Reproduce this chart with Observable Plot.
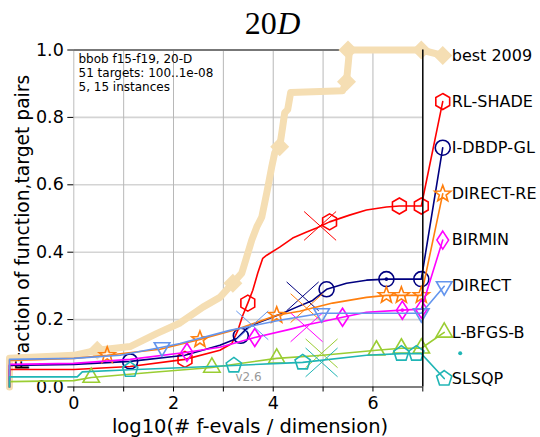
<!DOCTYPE html>
<html>
<head>
<meta charset="utf-8">
<script src="https://cdn.jsdelivr.net/npm/d3@7"></script>
<script src="https://cdn.jsdelivr.net/npm/@observablehq/plot@0.6"></script>
<style>
  body { margin: 0; background: #fff; }
  #chart svg { display: block; }
</style>
</head>
<body>
<div id="chart"></div>
<script>
// Runtime-length ECDFs, bbob f15-f19 in 20-D.
// Each point: [log10(# f-evals / dimension), fraction of (function, target) pairs].
// The last point of every curve is where it meets its name on the right.
const best2009 = [[-1.29,0],[-1.29,0.085],[0,0.094],[0.47,0.109],[1.13,0.12],[1.67,0.159],[2.13,0.19],[2.59,0.237],[2.93,0.266],[3.19,0.308],[3.37,0.338],[3.49,0.397],[3.57,0.436],[3.67,0.475],[3.77,0.504],[3.87,0.576],[3.91,0.606],[3.97,0.653],[4.03,0.695],[4.13,0.713],[4.19,0.772],[4.23,0.814],[4.29,0.823],[4.35,0.874],[5.39,0.879],[5.47,0.906],[5.53,1.0],[6.97,1.0],[7.4,0.984]];
const rlShade = [[-1.29,0],[-1.29,0.052],[0,0.052],[1.13,0.061],[2.23,0.082],[2.93,0.109],[3.17,0.129],[3.29,0.168],[3.39,0.213],[3.49,0.249],[3.59,0.287],[3.69,0.338],[3.79,0.382],[3.87,0.391],[4.13,0.415],[4.39,0.442],[4.67,0.46],[4.87,0.472],[5.13,0.49],[5.53,0.51],[5.87,0.525],[6.27,0.534],[6.53,0.537],[6.97,0.537],[7.4,0.847]];
const iDbdpGl = [[-1.29,0],[-1.29,0.064],[0,0.067],[1.13,0.076],[2.23,0.094],[2.93,0.124],[3.27,0.144],[3.47,0.174],[3.67,0.189],[3.93,0.204],[4.19,0.219],[4.47,0.237],[4.79,0.257],[5.07,0.29],[5.47,0.308],[5.87,0.317],[6.27,0.32],[6.97,0.32],[7.4,0.71]];
const directRe = [[-1.29,0],[-1.29,0.079],[0,0.085],[0.67,0.094],[1.73,0.112],[2.53,0.141],[3.33,0.174],[4.07,0.213],[4.53,0.225],[5.19,0.249],[5.87,0.266],[6.27,0.272],[6.97,0.272],[7.4,0.573]];
const birmin = [[-1.29,0],[-1.29,0.067],[0,0.07],[1.13,0.082],[2.27,0.103],[2.93,0.118],[3.63,0.147],[4.33,0.171],[4.73,0.186],[5.39,0.207],[5.87,0.222],[6.59,0.228],[6.97,0.231],[7.4,0.436]];
const direct = [[-1.29,0],[-1.29,0.082],[0,0.085],[0.93,0.094],[1.77,0.118],[2.13,0.129],[3.13,0.168],[4.13,0.198],[4.97,0.219],[5.87,0.219],[6.97,0.219],[7.43,0.299]];
const lbfgsb = [[-1.29,0],[-1.29,0.016],[0,0.019],[0.35,0.028],[1.53,0.043],[2.77,0.058],[4.07,0.085],[4.99,0.094],[6.07,0.109],[6.57,0.115],[6.97,0.115],[7.43,0.162]];
const slsqp = [[-1.29,0],[-1.29,0.03],[0.07,0.03],[0.17,0.045],[1.13,0.051],[2.13,0.057],[3.21,0.064],[4.13,0.07],[4.59,0.073],[5.87,0.094],[6.57,0.099],[6.97,0.099],[7.43,0.025]];

// Marker positions along each curve
const best2009Marks = [[0.47,0.109],[3.19,0.308],[4.13,0.713],[5.47,0.906],[5.5,1.0],[6.97,1.0],[7.4,0.984]];
const rlShadeMarks = [[2.23,0.082],[3.49,0.249],[5.13,0.49],[6.53,0.537],[6.97,0.537],[7.4,0.847]];
const iDbdpGlMarks = [[1.13,0.076],[3.35,0.152],[5.07,0.29],[6.27,0.32],[6.97,0.32],[7.4,0.71]];
const directReMarks = [[0.67,0.094],[2.53,0.141],[4.07,0.213],[6.27,0.272],[6.57,0.272],[6.97,0.272],[7.4,0.573]];
const birminMarks = [[2.27,0.103],[3.63,0.147],[5.39,0.207],[6.59,0.228],[6.97,0.231],[7.4,0.436]];
const directMarks = [[1.77,0.118],[4.97,0.219],[6.97,0.219],[7.43,0.299]];
const lbfgsbMarks = [[0.35,0.028],[2.77,0.058],[4.07,0.085],[6.07,0.109],[6.57,0.115],[6.97,0.115],[7.43,0.162]];
const slsqpMarks = [[1.13,0.051],[3.21,0.064],[4.59,0.073],[6.57,0.099],[6.87,0.099],[7.43,0.025]];

// Markers with a centre dot
const centreDots = [[6.27,0.32,"#000080"],[6.59,0.228,"#ff00ff"]];

// Median of the maximal number of evaluations (×)
const rlShadeMaxEvals = [[4.94,0.478]];
const iDbdpGlMaxEvals = [[4.59,0.269]];
const directReMaxEvals = [[4.67,0.234]];
const birminMaxEvals = [[4.67,0.177]];
const directMaxEvals = [[3.58,0.183]];
const lbfgsbMaxEvals = [[4.97,0.1]];
const slsqpMaxEvals = [[4.97,0.073]];

const strayPoint = [[7.75,0.1]];

const names = ["best 2009","RL-SHADE","I-DBDP-GL","DIRECT-RE","BIRMIN","DIRECT","L-BFGS-B","SLSQP"];
const colors = ["#f5deb3","#ff0000","#000080","#ff7f0e","#ff00ff","#6495ed","#9acd32","#20b5b5"];
const labelY = [0.984,0.847,0.71,0.573,0.436,0.299,0.162,0.025];
const labelX = 7.4;

const xTicks = [0,1,2,3,4,5,6,7];
const yTicks = [0,0.2,0.4,0.6,0.8,1];
const infoLines = "bbob f15-f19, 20-D\n51 targets: 100..1e-08\n5, 15 instances";

// ---- marker shapes ----
const polygon = (n, turn = 0, sx = 1, sy = 1) => ({
  draw(ctx, size) {
    const r = Math.sqrt(size / Math.PI);
    for (let i = 0; i < n; ++i) {
      const a = turn + 2 * Math.PI * i / n;
      const px = sx * r * Math.sin(a), py = -sy * r * Math.cos(a);
      if (i) ctx.lineTo(px, py); else ctx.moveTo(px, py);
    }
    ctx.closePath();
  }
});
const star = {
  draw(ctx, size) {
    const r = Math.sqrt(size / Math.PI), ri = r * 0.42;
    for (let i = 0; i < 10; ++i) {
      const a = Math.PI * i / 5, rr = i % 2 ? ri : r;
      const px = rr * Math.sin(a), py = -rr * Math.cos(a);
      if (i) ctx.lineTo(px, py); else ctx.moveTo(px, py);
    }
    ctx.closePath();
  }
};
const times = {
  draw(ctx, size) {
    const r = Math.sqrt(size / Math.PI);
    ctx.moveTo(-r, -r * 0.9); ctx.lineTo(r, r * 0.9);
    ctx.moveTo(-r, r * 0.9); ctx.lineTo(r, -r * 0.9);
  }
};
const hexagon = polygon(6);
const pentagon = polygon(5);
const triUp = polygon(3);
const triDown = polygon(3, Math.PI);
const diamondWide = polygon(4, 0, 1, 1);
const diamondThin = polygon(4, 0, 0.65, 1);

const series = [
  {line: best2009, marks: best2009Marks, cross: [], symbol: diamondWide, r: 9.5, fill: colors[0], width: 7},
  {line: rlShade, marks: rlShadeMarks, cross: rlShadeMaxEvals, symbol: hexagon, r: 8},
  {line: iDbdpGl, marks: iDbdpGlMarks, cross: iDbdpGlMaxEvals, symbol: "circle", r: 7.5},
  {line: directRe, marks: directReMarks, cross: directReMaxEvals, symbol: star, r: 8.5},
  {line: birmin, marks: birminMarks, cross: birminMaxEvals, symbol: diamondThin, r: 9},
  {line: direct, marks: directMarks, cross: directMaxEvals, symbol: triDown, r: 9},
  {line: lbfgsb, marks: lbfgsbMarks, cross: lbfgsbMaxEvals, symbol: triUp, r: 9.5},
  {line: slsqp, marks: slsqpMarks, cross: slsqpMaxEvals, symbol: pentagon, r: 8}
].map((s, i) => ({...s, color: colors[i]}));

const px = d => d[0], py = d => d[1];

const curveMarks = series.flatMap(s => [
  Plot.line(s.line, {x: px, y: py, stroke: s.color, strokeWidth: s.width ?? 1.6, strokeLinejoin: "round"}),
  Plot.dot(s.marks, {x: px, y: py, symbol: s.symbol, r: s.r, stroke: s.color, fill: s.fill ?? "none", strokeWidth: s.fill ? 0 : 1.6}),
  Plot.dot(s.cross, {x: px, y: py, symbol: times, r: 16, stroke: s.color, strokeWidth: 1})
]);

const chart = Plot.plot({
  width: 540,
  height: 437,
  marginLeft: 73.3,
  marginRight: 117.7,
  marginTop: 49.5,
  marginBottom: 50.5,
  style: {fontFamily: "'DejaVu Sans', sans-serif", fontSize: "17px", background: "#fff", color: "#000", overflow: "visible"},
  x: {domain: [0, 7]},
  y: {domain: [0, 1]},
  marks: [
    Plot.gridY({ticks: [0.2, 0.4, 0.6, 0.8], stroke: "#d4d4d4", strokeOpacity: 1, strokeWidth: 1.6}),
    Plot.gridX({ticks: [1, 2, 3, 4, 5, 6], stroke: "#b8b8b8", strokeOpacity: 1, strokeWidth: 1}),
    Plot.ruleX([0], {stroke: "#bdbdbd", strokeWidth: 1}),
    Plot.ruleY([1], {stroke: "#777", strokeWidth: 2}),
    Plot.axisX({ticks: xTicks, tickFormat: d => d % 2 ? "" : String(d), tickSize: 5, tickPadding: 5, fontSize: 17.5, label: null}),
    Plot.axisY({ticks: yTicks, tickFormat: d3.format(".1f"), tickSize: 6, tickPadding: 4, fontSize: 17.5, label: null}),
    // axis titles and annotations
    Plot.text(["log10(# f-evals / dimension)"], {frameAnchor: "bottom", dx: 1.7, dy: 40, lineAnchor: "middle", textAnchor: "middle", fontSize: 19.5, fill: "#000"}),
    Plot.text(["Fraction of function,target pairs"], {frameAnchor: "left", rotate: -90, dx: -51, dy: 4, lineAnchor: "middle", textAnchor: "middle", fontSize: 18.7, fill: "#000"}),
    Plot.text(["20"], {frameAnchor: "top", dx: 28.5, dy: -16, textAnchor: "end", lineAnchor: "bottom", fontSize: 32, fontFamily: "'Liberation Serif', serif", fill: "#000"}),
    Plot.text(["D"], {frameAnchor: "top", dx: 29, dy: -16, textAnchor: "start", lineAnchor: "bottom", fontSize: 32, fontStyle: "italic", fontFamily: "'Liberation Serif', serif", fill: "#000"}),
    Plot.text([infoLines], {frameAnchor: "top-left", dx: 4.7, dy: 3.5, lineAnchor: "top", textAnchor: "start", lineHeight: 1.15, fontSize: 12, fill: "#000"}),
    Plot.text(["v2.6"], {frameAnchor: "bottom-left", dx: 161.7, dy: -9.5, lineAnchor: "middle", textAnchor: "start", fontSize: 12, fill: "#999"}),
    // curves
    ...curveMarks,
    Plot.dot(centreDots, {x: px, y: py, r: 1.8, fill: d => d[2], stroke: null}),
    Plot.dot(strayPoint, {x: px, y: py, r: 2, fill: colors[7], stroke: null}),
    // frame edges drawn over the curves
    Plot.ruleY([0], {stroke: "#000", strokeWidth: 1.2}),
    Plot.ruleX([7], {stroke: "#000", strokeWidth: 1.5}),
    // curve names
    Plot.text(names, {x: () => labelX, y: (d, i) => labelY[i], text: d => d, textAnchor: "start", dx: 9, lineAnchor: "middle", fontSize: 16, fill: "#000"})
  ]
});

document.getElementById("chart").append(chart);
</script>
</body>
</html>
